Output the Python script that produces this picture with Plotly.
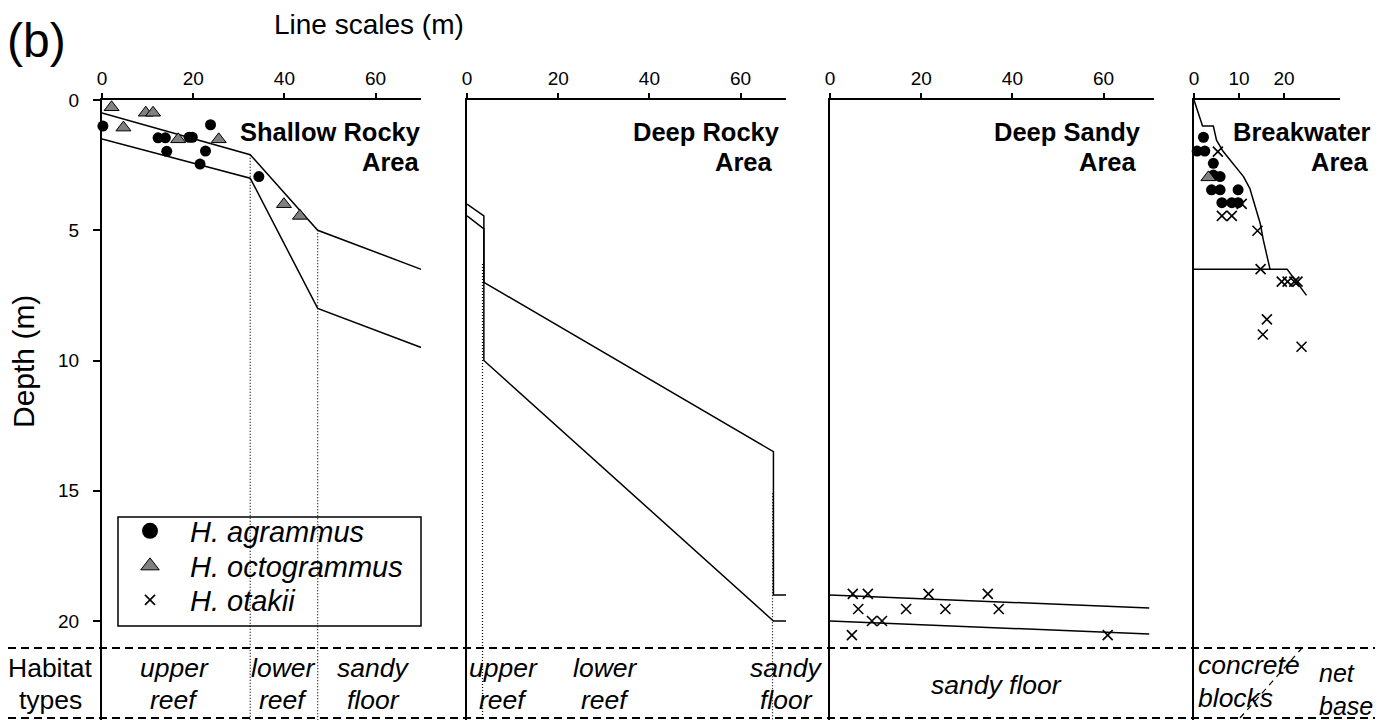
import plotly.graph_objects as go

# The page adds an 8px body margin on the left/top; the figure is sized so it fills the window
OFF = 8
FW, FH = 1383 - 2 * OFF, 720 - OFF
FONT = "Arial, 'Liberation Sans', Helvetica, sans-serif"
DEPTH_MAX = 23.8  # depth at the bottom of the plotting frame (m)

# ---------------- data ----------------
# Shallow Rocky Area
sr_upper_x = [0, 32.5, 47.3, 70]
sr_upper_d = [0.5, 2.1, 5.0, 6.5]
sr_lower_x = [0, 32.5, 47.3, 70]
sr_lower_d = [1.5, 3.0, 8.0, 9.5]
sr_bound_x = [32.5, 47.3]
sr_bound_top = [2.1, 5.0]
sr_agr_x = [0.2, 12.3, 13.9, 19.1, 19.8, 23.8, 14.2, 22.7, 21.5, 34.4]
sr_agr_d = [1.0, 1.45, 1.45, 1.43, 1.43, 0.95, 1.97, 1.96, 2.46, 2.94]
sr_oct_x = [2.1, 9.6, 11.2, 4.7, 16.7, 25.6, 39.9, 43.4]
sr_oct_d = [0.28, 0.49, 0.49, 1.06, 1.51, 1.51, 4.0, 4.45]

# Deep Rocky Area
dr_upper_x = [0, 3.7, 3.7, 67.2, 67.2, 70]
dr_upper_d = [4.0, 4.45, 7.0, 13.5, 19.0, 19.0]
dr_lower_x = [0, 3.7, 3.7, 67.2, 70]
dr_lower_d = [4.45, 4.95, 10.0, 20.0, 20.0]
dr_bound_x = [3.4, 67.0]
dr_bound_top = [6.3, 15.1]

# Deep Sandy Area
ds_upper_x = [0, 70]
ds_upper_d = [19.0, 19.5]
ds_lower_x = [0, 70]
ds_lower_d = [20.0, 20.5]
ds_ota_x = [5.0, 8.3, 21.6, 34.6, 6.2, 16.7, 25.3, 37.0, 9.2, 11.4, 4.8, 60.9]
ds_ota_d = [18.96, 18.96, 18.96, 18.96, 19.54, 19.54, 19.54, 19.54, 20.0, 20.0, 20.54, 20.54]

# Breakwater Area
bw_prof_x = [0, 1.9, 4.3, 5.0, 6.5, 8.7, 11.0, 12.4, 13.9, 14.7, 15.4, 16.9]
bw_prof_d = [0, 1.0, 1.0, 1.54, 1.98, 2.43, 2.94, 3.39, 4.22, 4.73, 5.37, 6.5]
bw_base_x = [0, 20.7, 25.0]
bw_base_d = [6.5, 6.5, 7.5]
bw_agr_x = [2.1, 0.7, 2.4, 4.3, 4.3, 5.8, 3.9, 5.8, 9.8, 6.2, 8.4, 9.8]
bw_agr_d = [1.43, 1.96, 1.96, 2.43, 2.88, 2.94, 3.45, 3.45, 3.45, 3.94, 3.94, 3.94]
bw_oct_x = [3.2]
bw_oct_d = [2.97]
bw_ota_x = [5.3, 6.2, 8.4, 10.6, 14.1, 14.8, 19.5, 20.8, 22.3, 23.0, 16.2, 15.3, 23.9]
bw_ota_d = [1.98, 4.45, 4.45, 3.99, 5.02, 6.49, 6.97, 6.97, 6.97, 6.97, 8.42, 9.0, 9.47]

species = ["<i>H. agrammus</i>", "<i>H. octogrammus</i>", "<i>H. otakii</i>"]

# ---------------- styles ----------------
AGR = dict(symbol="circle", size=11, color="black")
OCT = dict(symbol="triangle-up", size=13, color="#808080", line=dict(color="black", width=1))
OTA = dict(symbol="x-thin-open", size=10, color="black", line=dict(color="black", width=1.6))
LINE = dict(color="black", width=1.5)
DOT = dict(color="black", width=1.2, dash="1px,2px")

fig = go.Figure()


def add_line(x, y, ax, line=LINE):
    fig.add_trace(go.Scatter(x=x, y=y, mode="lines", line=line, xaxis="x" + ax, yaxis="y" + ax,
                             showlegend=False, hoverinfo="skip", cliponaxis=False))


def add_pts(x, y, ax, marker):
    fig.add_trace(go.Scatter(x=x, y=y, mode="markers", marker=marker, xaxis="x" + ax, yaxis="y" + ax,
                             showlegend=False, cliponaxis=False))


# panel 1
add_line(sr_upper_x, sr_upper_d, "")
add_line(sr_lower_x, sr_lower_d, "")
for bx, bt in zip(sr_bound_x, sr_bound_top):
    add_line([bx, bx], [bt, DEPTH_MAX], "", DOT)
add_pts(sr_agr_x, sr_agr_d, "", AGR)
add_pts(sr_oct_x, sr_oct_d, "", OCT)
# panel 2
add_line(dr_upper_x, dr_upper_d, "2")
add_line(dr_lower_x, dr_lower_d, "2")
for bx, bt in zip(dr_bound_x, dr_bound_top):
    add_line([bx, bx], [bt, DEPTH_MAX], "2", DOT)
# panel 3
add_line(ds_upper_x, ds_upper_d, "3")
add_line(ds_lower_x, ds_lower_d, "3")
add_pts(ds_ota_x, ds_ota_d, "3", OTA)
# panel 4
add_line(bw_prof_x, bw_prof_d, "4")
add_line(bw_base_x, bw_base_d, "4")
add_pts(bw_agr_x, bw_agr_d, "4", AGR)
add_pts(bw_oct_x, bw_oct_d, "4", OCT)
add_pts(bw_ota_x, bw_ota_d, "4", OTA)


# ---------------- helpers (window pixel -> paper) ----------------
def px(x):
    return (x - OFF) / FW


def py(y):
    return 1 - (y - OFF) / FH


# legend-only traces, one legend per row so the rows can be spaced like the original
LEG_MK = [dict(AGR, size=16), dict(OCT, size=16), dict(OTA, size=10)]
LEG_ROWS = [531, 566, 600]
legends = {}
for i, (name, mk, row) in enumerate(zip(species, LEG_MK, LEG_ROWS)):
    lname = "legend" if i == 0 else "legend%d" % (i + 1)
    fig.add_trace(go.Scatter(x=[None], y=[None], mode="markers", marker=mk, name=name,
                             legend=lname, showlegend=True))
    legends[lname] = dict(x=px(110), y=py(row), xanchor="left", yanchor="middle",
                          bgcolor="rgba(0,0,0,0)", borderwidth=0, itemwidth=70,
                          itemsizing="trace",
                          font=dict(size=29, family=FONT, color="black"))

# ---------------- axes ----------------
panels = [
    dict(left=102, rng=70, ppu=4.56, ticks=[0, 20, 40, 60]),
    dict(left=467, rng=70, ppu=4.56, ticks=[0, 20, 40, 60]),
    dict(left=830, rng=71, ppu=4.56, ticks=[0, 20, 40, 60]),
    dict(left=1194, rng=32.5, ppu=4.5, ticks=[0, 10, 20]),
]
ydom = [0, py(100)]
layout_axes = {}
for i, p in enumerate(panels):
    sfx = "" if i == 0 else str(i + 1)
    layout_axes["xaxis" + sfx] = dict(
        domain=[px(p["left"]), px(p["left"] + p["rng"] * p["ppu"])], range=[0, p["rng"]],
        side="top", anchor="y" + sfx, showline=True, linecolor="black", linewidth=2,
        ticks="outside", ticklen=5, tickwidth=1.5, tickcolor="black", tickvals=p["ticks"],
        tickfont=dict(size=19, color="black", family=FONT), showgrid=False, zeroline=False,
        fixedrange=True)
    ya = dict(domain=ydom, range=[DEPTH_MAX, 0], anchor="x" + sfx, showline=True,
              linecolor="black", linewidth=2, showgrid=False, zeroline=False, fixedrange=True)
    if i == 0:
        ya.update(ticks="outside", ticklen=7, tickwidth=1.5, tickcolor="black",
                  tickvals=[0, 5, 10, 15, 20], ticklabelstandoff=10,
                  tickfont=dict(size=19, color="black", family=FONT))
    else:
        ya.update(ticks="", showticklabels=False)
    layout_axes["yaxis" + sfx] = ya

# ---------------- annotations ----------------
ann = []


def text(x, y, s, size, xanchor="center", italic=False, bold=False, angle=0, align="center"):
    if italic:
        s = "<i>" + s + "</i>"
    if bold:
        s = "<b>" + s + "</b>"
    ann.append(dict(x=px(x), y=py(y), xref="paper", yref="paper", text=s, showarrow=False,
                    xanchor=xanchor, yanchor="middle", textangle=angle, align=align,
                    font=dict(size=size, color="black", family=FONT)))


text(5, 40, "(b)", 48, xanchor="left")
text(369, 25, "Line scales (m)", 28)
text(24, 362, "Depth (m)", 30, angle=-90)

titles = [("Shallow Rocky", "Area", 423, 422), ("Deep Rocky", "Area", 782, 775),
          ("Deep Sandy", "Area", 1143, 1139), ("Breakwater", "Area", 1373, 1371)]
for t1, t2, r1, r2 in titles:
    text(r1, 132, t1, 25.5, xanchor="right", bold=True)
    text(r2, 162, t2, 25.5, xanchor="right", bold=True)

HS = 26.5
hab = [
    ("Habitat", "types", 50, False),
    ("upper", "reef", 174, True), ("lower", "reef", 283, True), ("sandy", "floor", 373, True),
    ("upper", "reef", 503, True), ("lower", "reef", 605, True), ("sandy", "floor", 786, True),
]
for a, b, cx, it in hab:
    text(cx, 668, a, HS, italic=it)
    text(cx, 700, b, HS, italic=it)
text(996, 685, "sandy floor", HS, italic=True)
text(1196, 665, "concrete", HS, xanchor="left", italic=True)
text(1196, 698, "blocks", HS, xanchor="left", italic=True)
text(1317, 689, "net<br>base", 25, xanchor="left", italic=True, align="left")

# ---------------- shapes ----------------
shapes = []
for yy in (648, 718):
    shapes.append(dict(type="line", xref="paper", yref="paper", x0=0, x1=1, y0=py(yy), y1=py(yy),
                       line=dict(color="black", width=2, dash="8px,5px")))
shapes.append(dict(type="line", xref="paper", yref="paper", x0=px(1240), x1=px(1302),
                   y0=py(718), y1=py(648), line=dict(color="black", width=1.2, dash="6px,5px")))
shapes.append(dict(type="rect", xref="paper", yref="paper", x0=px(118), x1=px(421),
                   y0=py(626), y1=py(517), line=dict(color="black", width=1.5),
                   fillcolor="white", layer="below"))

fig.update_layout(
    width=FW, height=FH, margin=dict(l=0, r=0, t=0, b=0, autoexpand=False),
    paper_bgcolor="white", plot_bgcolor="rgba(0,0,0,0)",
    font=dict(family=FONT, color="black"),
    showlegend=True,
    annotations=ann, shapes=shapes,
    **legends,
    **layout_axes,
)

fig.write_html("out.html")
